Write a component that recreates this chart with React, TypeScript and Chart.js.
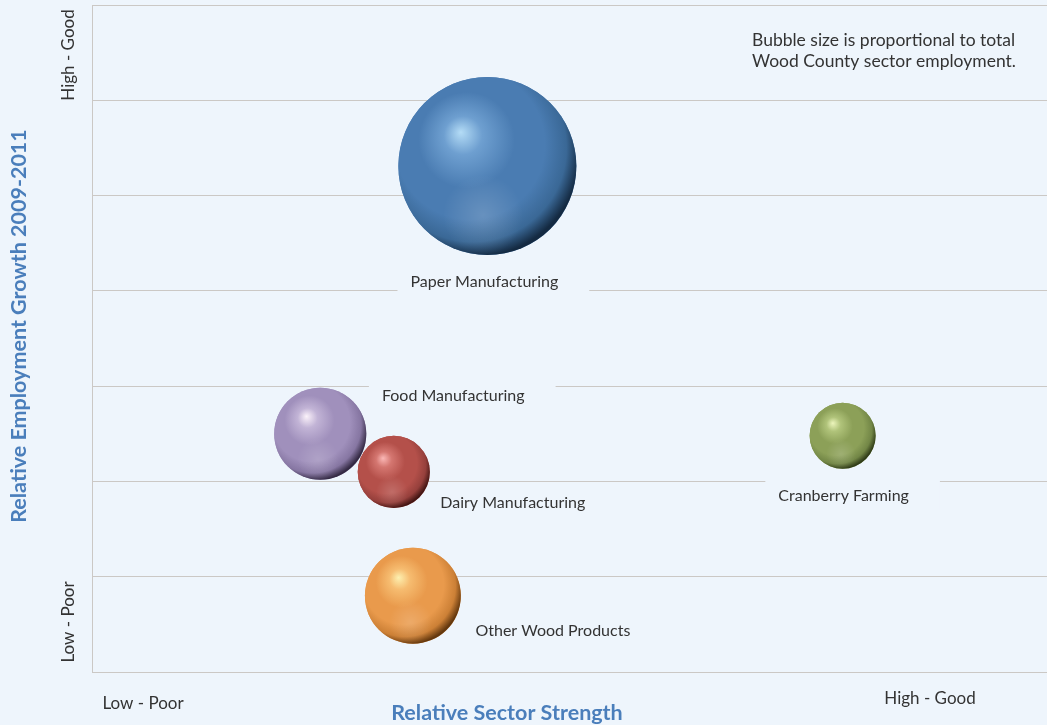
import React, { useEffect, useRef } from "react";
import { Chart, registerables } from "chart.js";

Chart.register(...registerables);

// ---- Data ----
const sectors = [
  "Paper Manufacturing",
  "Food Manufacturing",
  "Dairy Manufacturing",
  "Cranberry Farming",
  "Other Wood Products",
];
// Relative sector strength (x, 0 = low/poor .. 10 = high/good)
const sectorStrength = [4.14, 2.39, 3.16, 7.86, 3.36];
// Relative employment growth 2009-2011 (y, 0 = low/poor .. 7 = high/good)
const employmentGrowth = [5.31, 2.5, 2.1, 2.48, 0.8];
// Total Wood County sector employment (bubble area)
const employment = [3960, 1060, 650, 545, 1150];

const xTickLabels = ["Low - Poor", "High - Good"];
const yTickLabels = ["Low - Poor", "High - Good"];
const xTitle = "Relative Sector Strength";
const yTitle = "Relative Employment Growth 2009-2011";
const noteLines = [
  "Bubble size is proportional to total",
  "Wood County sector employment.",
];

// ---- Styles ----
const BG = "#eef5fc";
const GRID = "#cbc8c5";
const TITLE_BLUE = "#4a7ebb";
const TEXT = "#333333";
const FONT = "Lato, 'Open Sans', sans-serif";
const MAX_RADIUS = 89;

const palettes = [
  { hi: "#b4dcf6", light: "#6e9fd0", base: "#4a7cb2", mid: "#3a6896", dark: "#142a42" },
  { hi: "#fbf2fa", light: "#c2b4d6", base: "#a090bc", mid: "#8676a2", dark: "#342a44" },
  { hi: "#fbb8b6", light: "#d47670", base: "#b4504a", mid: "#96403c", dark: "#441614" },
  { hi: "#ecf5bc", light: "#b0c37a", base: "#8ca058", mid: "#728646", dark: "#303c18" },
  { hi: "#fdf0b0", light: "#f6bc70", base: "#e99a4c", mid: "#cc8036", dark: "#64380e" },
];
// label offsets from bubble centre (px)
const labelOffsets = [
  [-3, 116],
  [133, -38],
  [119, 31],
  [1, 60],
  [140, 35],
];

const maxEmp = Math.max(...employment);
const bubbleData = sectors.map((_, i) => ({
  x: sectorStrength[i],
  y: employmentGrowth[i],
  r: MAX_RADIUS * Math.sqrt(employment[i] / maxEmp),
}));

const bgPlugin = {
  id: "bgFill",
  beforeDraw(chart: any) {
    const { ctx, width, height } = chart;
    ctx.save();
    ctx.fillStyle = BG;
    ctx.fillRect(0, 0, width, height);
    ctx.restore();
  },
};

const labelPlugin = {
  id: "bubbleLabels",
  beforeDatasetsDraw(chart: any) {
    const { ctx } = chart;
    const meta = chart.getDatasetMeta(0);
    ctx.save();
    ctx.font = `16px ${FONT}`;
    ctx.textBaseline = "middle";
    ctx.textAlign = "center";
    meta.data.forEach((el: any, i: number) => {
      const tx = el.x + labelOffsets[i][0];
      const ty = el.y + labelOffsets[i][1];
      const w = ctx.measureText(sectors[i]).width;
      ctx.fillStyle = BG;
      ctx.fillRect(tx - w / 2 - 13, ty - 15, w + 44, 30);
      ctx.fillStyle = TEXT;
      ctx.fillText(sectors[i], tx, ty);
    });
    ctx.restore();
  },
};

const spherePlugin = {
  id: "sphereShade",
  afterDatasetsDraw(chart: any) {
    const { ctx } = chart;
    const meta = chart.getDatasetMeta(0);
    ctx.save();
    meta.data.forEach((el: any, i: number) => {
      const p = palettes[i];
      const cx = el.x;
      const cy = el.y;
      const r = el.options.radius;
      if (!isFinite(cx) || !isFinite(cy) || !isFinite(r)) return;
      ctx.save();
      ctx.beginPath();
      ctx.arc(cx, cy, r, 0, Math.PI * 2);
      ctx.clip();
      const g = ctx.createRadialGradient(
        cx - 0.3 * r,
        cy - 0.38 * r,
        0,
        cx - 0.15 * r,
        cy - 0.18 * r,
        1.2 * r
      );
      g.addColorStop(0, p.hi);
      g.addColorStop(0.18, p.light);
      g.addColorStop(0.45, p.base);
      g.addColorStop(0.7, p.base);
      g.addColorStop(0.88, p.mid);
      g.addColorStop(1, p.dark);
      ctx.fillStyle = g;
      ctx.fillRect(cx - r - 1, cy - r - 1, 2 * r + 2, 2 * r + 2);
      // soft reflected light along the lower rim
      const g2 = ctx.createRadialGradient(cx - 0.05 * r, cy + 0.55 * r, 0, cx - 0.05 * r, cy + 0.55 * r, 0.45 * r);
      g2.addColorStop(0, "rgba(255,255,255,0.16)");
      g2.addColorStop(1, "rgba(255,255,255,0)");
      ctx.fillStyle = g2;
      ctx.fillRect(cx - r - 1, cy - r - 1, 2 * r + 2, 2 * r + 2);
      ctx.restore();
    });
    ctx.restore();
  },
};

const textPlugin = {
  id: "axisTexts",
  afterDraw(chart: any) {
    const { ctx } = chart;
    ctx.save();
    ctx.fillStyle = TEXT;
    ctx.font = `17px ${FONT}`;
    ctx.textAlign = "center";
    ctx.textBaseline = "middle";
    ctx.fillText(xTickLabels[0], 143, 704);
    ctx.fillText(xTickLabels[1], 930, 699);
    const rot = (t: string, x: number, y: number) => {
      ctx.save();
      ctx.translate(x, y);
      ctx.rotate(-Math.PI / 2);
      ctx.fillText(t, 0, 0);
      ctx.restore();
    };
    rot(yTickLabels[1], 69, 55);
    rot(yTickLabels[0], 69, 622);
    ctx.fillStyle = TITLE_BLUE;
    ctx.font = `bold 21.5px ${FONT}`;
    ctx.fillText(xTitle, 507, 713);
    rot(yTitle, 19, 326);
    ctx.fillStyle = TEXT;
    ctx.font = `17.5px ${FONT}`;
    ctx.textAlign = "left";
    ctx.fillText(noteLines[0], 752, 40);
    ctx.fillText(noteLines[1], 752, 61);
    ctx.restore();
  },
};

export default function App() {
  const ref = useRef<HTMLCanvasElement>(null);
  useEffect(() => {
    document.body.style.margin = "0";
    document.body.style.background = BG;
    const chart = new Chart(ref.current!, {
      type: "bubble",
      data: {
        datasets: [
          {
            label: "Sectors",
            data: bubbleData,
            backgroundColor: palettes.map((p) => p.base),
            borderWidth: 0,
            hoverBorderWidth: 0,
            clip: false,
          },
        ],
      },
      options: {
        responsive: false,
        animation: false,
        events: [],
        layout: { autoPadding: false, padding: { top: 5, right: 0, left: 0, bottom: 0 } },
        plugins: {
          legend: { display: false },
          tooltip: { enabled: false },
        },
        scales: {
          x: {
            type: "linear",
            min: 0,
            max: 10,
            grid: { display: false },
            border: { display: false },
            ticks: { display: false },
            afterFit: (s: any) => {
              s.height = 53;
            },
          },
          y: {
            type: "linear",
            min: 0,
            max: 7,
            grid: { color: GRID, lineWidth: 1, drawTicks: false },
            border: { display: true, color: GRID, width: 1 },
            ticks: { display: false, stepSize: 1 },
            afterFit: (s: any) => {
              s.width = 92;
            },
          },
        },
      },
      plugins: [bgPlugin, labelPlugin, spherePlugin, textPlugin],
    });
    return () => chart.destroy();
  }, []);
  return (
    <div style={{ position: "fixed", left: 0, top: 0, width: 1047, height: 725 }}>
      <canvas ref={ref} width={1047} height={725} style={{ display: "block" }} />
    </div>
  );
}
